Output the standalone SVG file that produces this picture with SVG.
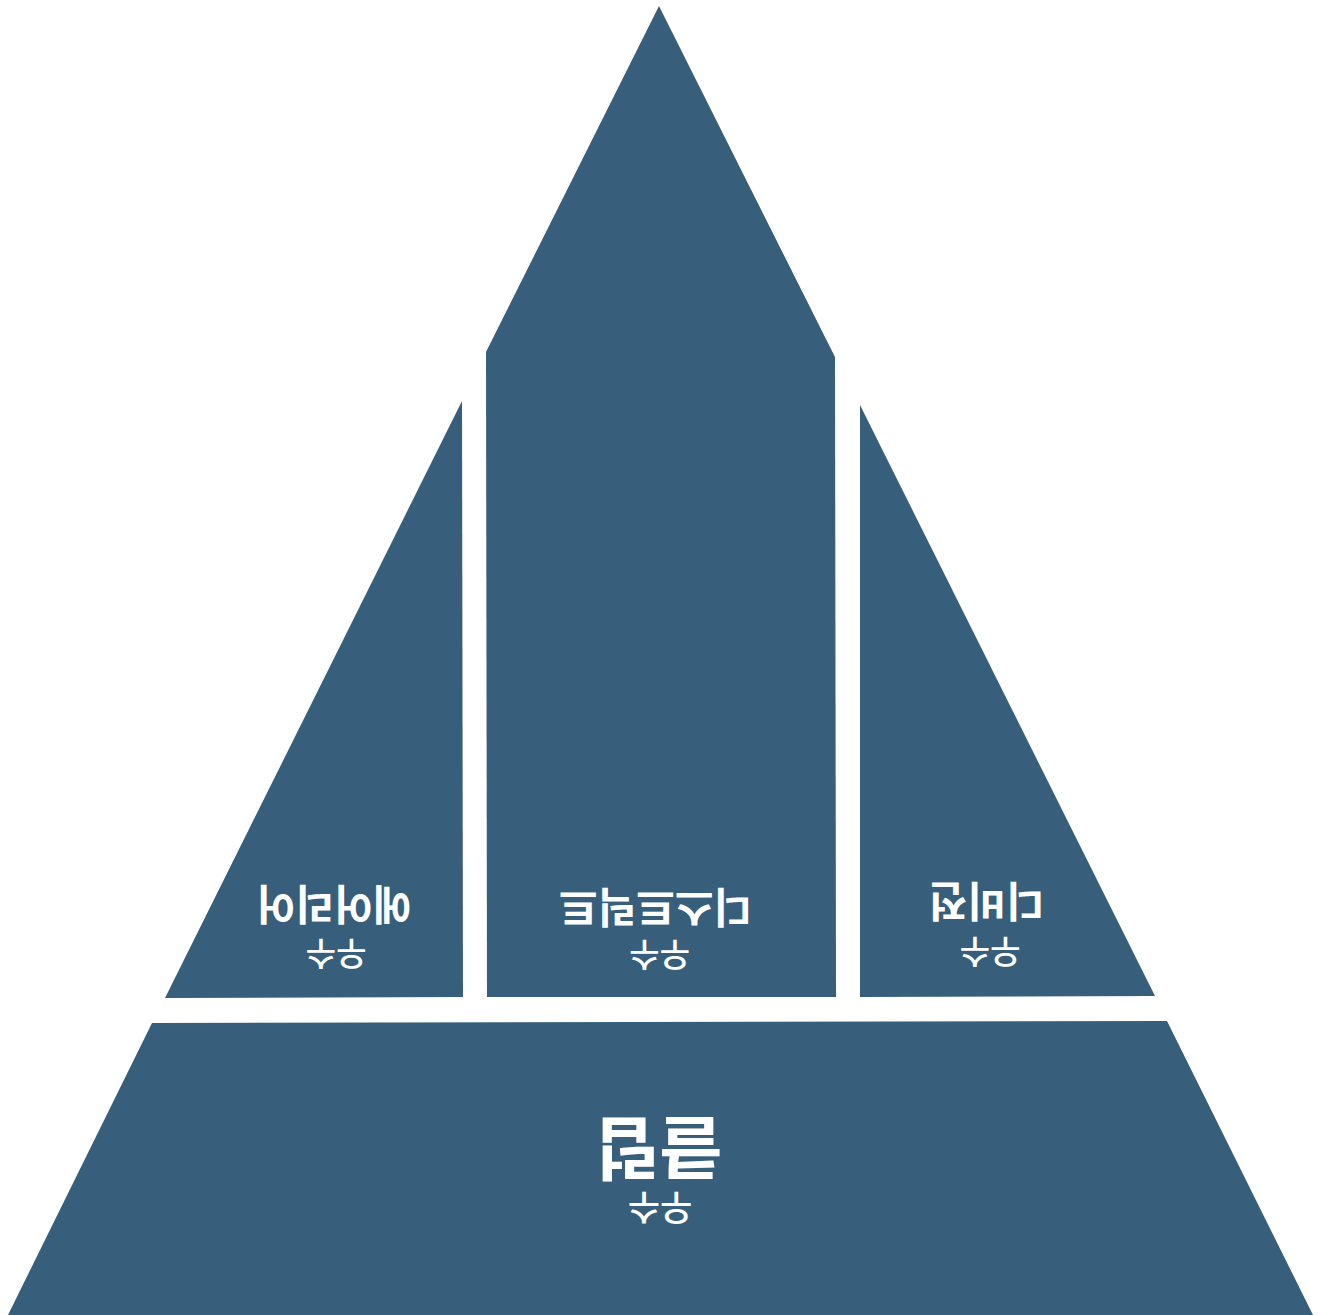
<svg xmlns="http://www.w3.org/2000/svg" width="1319" height="1315" viewBox="0 0 1319 1315">
<style>
.shape{fill:#375e7a}
.big{font-family:"Noto Sans CJK KR","Noto Sans",sans-serif;font-weight:700;fill:#ffffff;text-anchor:middle}
.small{font-family:"Noto Sans CJK KR","Noto Sans",sans-serif;font-weight:500;fill:#ffffff;text-anchor:middle}
</style>
<rect width="1319" height="1315" fill="#ffffff"/>
<g id="node-top">
<polygon class="shape" points="659,6 486,352 487,997 836,997 835,357"/>
<text class="big" font-size="42" x="655.5" y="923.7" transform="rotate(180 655.5 908)">디스트릭트</text>
<text class="small" font-size="33" x="659.5" y="967.4" transform="rotate(180 659.5 955)">우수</text>
</g>
<g id="node-left">
<polygon class="shape" points="462,401 463,997 165,998"/>
<text class="big" font-size="42" x="334" y="920.7" transform="rotate(180 334 905)">에어리어</text>
<text class="small" font-size="33" x="336" y="966.4" transform="rotate(180 336 954)">우수</text>
</g>
<g id="node-right">
<polygon class="shape" points="860,405 860,997 1155,996"/>
<text class="big" font-size="42" x="986.5" y="917.7" transform="rotate(180 986.5 902)">디비전</text>
<text class="small" font-size="33" x="990" y="964.4" transform="rotate(180 990 952)">우수</text>
</g>
<g id="node-bottom">
<polygon class="shape" points="152,1023 1167,1021 1313,1315 8,1315"/>
<text class="big" font-size="69" x="659" y="1174" transform="rotate(180 659 1148.5)">클럽</text>
<text class="small" font-size="35" x="660" y="1221" transform="rotate(180 660 1208)">우수</text>
</g>
<g id="connectors"></g>
</svg>
